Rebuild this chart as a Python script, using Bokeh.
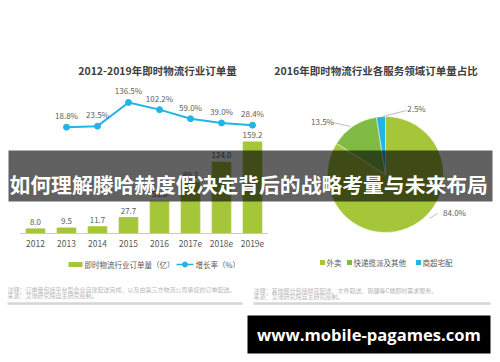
import numpy as np
from bokeh.plotting import figure
from bokeh.models import Range1d
from bokeh.core.properties import value
from bokeh.embed import file_html
from bokeh.resources import INLINE

# ---------------- data ----------------
years = ["2012", "2013", "2014", "2015", "2016", "2017e", "2018e", "2019e"]
orders = [8.0, 9.5, 11.7, 27.7, 56.0, 89.2, 124.0, 159.2]
rate_years = ["2013", "2014", "2015", "2016", "2017e", "2018e", "2019e"]
rates = [18.8, 23.5, 136.5, 102.2, 59.0, 39.0, 28.4]

pie_cats = ["外卖", "快递揽派及其他", "商超宅配"]
pie_shares = [84.0, 13.5, 2.5]

left_title = "2012-2019年即时物流行业订单量"
right_title = "2016年即时物流行业各服务领域订单量占比"
bar_legend = "即时物流行业订单量（亿）"
line_legend = "增长率（%）"
left_notes = ["注释：订单量包括平台型企业自建配送完成，以及由第三方物流公司承接的订单配送。",
              "来源：艾瑞研究院自主研究绘制。"]
right_notes = ["注释：其他部分包括鲜花配送、文件取送、跑腿等C端即时需求服务。",
               "来源：艾瑞研究院自主研究绘制。"]
banner_text = "如何理解滕哈赫度假决定背后的战略考量与未来布局"
site_text = "www.mobile-pagames.com"

# ---------------- style ----------------
W, H = 500, 362
OFF = 8
FONT = "Noto Sans CJK SC"
GREEN = "#a6c63a"
GREEN2 = "#7fba42"
CYAN = "#22b5e3"
GRAY_TXT = "#606060"

p = figure(width=W, height=H, x_range=Range1d(-OFF, W - OFF), y_range=Range1d(-OFF, H - OFF),
           x_axis_type=None, y_axis_type=None, toolbar_location=None,
           output_backend="svg", min_border=0)
p.grid.visible = False
p.outline_line_color = None
p.background_fill_color = "white"
p.border_fill_color = "white"

# scales for the left chart (positioned inside the full-size frame)
step = 31.0
x0px = 27.0 + OFF
p.extra_x_ranges = {"bx": Range1d(-x0px / step, -x0px / step + W / step)}
bar_k, bar_base = 0.575, 121.0 + OFF
rate_k, rate_base = 0.21, 223.4 + OFF
p.extra_y_ranges = {
    "by": Range1d(-bar_base / bar_k, -bar_base / bar_k + H / bar_k),
    "ry": Range1d(-rate_base / rate_k, -rate_base / rate_k + H / rate_k),
}

idx = list(range(len(years)))
ridx = [years.index(y) for y in rate_years]

def txt(**kw):
    kw.setdefault("text_font", value(FONT))
    return p.text(**kw)

# titles
txt(x=[149], y=[284], text=[left_title], text_align="center", text_baseline="middle",
    text_font_size="10.5px", text_font_style="bold", text_color="#404040")
txt(x=[367.5], y=[284], text=[right_title], text_align="center", text_baseline="middle",
    text_font_size="10.5px", text_font_style="bold", text_color="#404040")

# bars
p.vbar(x=idx, top=orders, bottom=0, width=0.6, color=GREEN,
       x_range_name="bx", y_range_name="by")
p.segment(x0=[-0.5], x1=[len(years) - 0.5], y0=[0], y1=[0], line_color="#c8c8c8",
          line_width=1, x_range_name="bx", y_range_name="by")
txt(x=idx, y=orders, text=[f"{v:.1f}" for v in orders], text_align="center",
    text_baseline="bottom", y_offset=-4, text_font_size="8px", text_color=GRAY_TXT,
    x_range_name="bx", y_range_name="by")
txt(x=idx, y=[0] * len(years), text=years, text_align="center", text_baseline="top",
    y_offset=6, text_font_size="8.5px", text_color="#595959",
    x_range_name="bx", y_range_name="by")

# growth line
p.line(x=ridx, y=rates, line_color=CYAN, line_width=2,
       x_range_name="bx", y_range_name="ry")
p.scatter(x=ridx, y=rates, size=6, fill_color=CYAN, line_color=CYAN,
          x_range_name="bx", y_range_name="ry")
txt(x=ridx, y=rates, text=[f"{v:.1f}%" for v in rates], text_align="center",
    text_baseline="bottom", y_offset=-6, text_font_size="8px", text_color=GRAY_TXT,
    x_range_name="bx", y_range_name="ry")

# left legend
p.rect(x=[67], y=[90], width=14, height=5, fill_color=GREEN, line_color=None)
txt(x=[76], y=[90], text=[bar_legend], text_baseline="middle",
    text_font_size="7.5px", text_color="#595959")
p.segment(x0=[168], x1=[185], y0=[90], y1=[90], line_color=CYAN, line_width=1.5)
p.scatter(x=[176.5], y=[90], size=5, fill_color=CYAN, line_color=CYAN)
txt(x=[187], y=[90], text=[line_legend], text_baseline="middle",
    text_font_size="7.5px", text_color="#595959")

# pie
cx, cy, r = 377, 180, 58
fr = np.array(pie_shares) / sum(pie_shares)
cum = np.concatenate([[0], np.cumsum(fr)])
starts = np.pi / 2 - 2 * np.pi * cum[:-1]
ends = np.pi / 2 - 2 * np.pi * cum[1:]
p.wedge(x=[cx] * 3, y=[cy] * 3, radius=r, start_angle=list(starts), end_angle=list(ends),
        direction="clock", fill_color=[GREEN, GREEN2, CYAN], line_color="white",
        line_width=0.5)

# pie labels with leader lines
lab_x = [446, 314, 408]
lab_y = [142, 233, 246]
p.segment(x0=[421, 324, 374], y0=[136, 232, 238], x1=[429, 342, 398], y1=[141, 228, 244],
          line_color="#bdbdbd", line_width=1)
txt(x=lab_x, y=lab_y, text=[f"{v:.1f}%" for v in pie_shares], text_align="center",
    text_baseline="middle", text_font_size="8px", text_color=GRAY_TXT)

# right legend
lg_x = [314, 341, 410]
p.rect(x=lg_x, y=[92] * 3, width=5, height=5, fill_color=[GREEN, GREEN2, CYAN], line_color=None)
txt(x=[v + 4 for v in lg_x], y=[92] * 3, text=pie_cats, text_baseline="middle",
    text_font_size="7.5px", text_color="#595959")

# footnotes
txt(x=[-1, -1], y=[65, 59], text=left_notes, text_baseline="middle",
    text_font_size="6px", text_color="#b8b8b8")
txt(x=[245, 245], y=[64, 58], text=right_notes, text_baseline="middle",
    text_font_size="6px", text_color="#b8b8b8")
p.segment(x0=[-1, 245], x1=[234, 482], y0=[51, 51], y1=[51, 51],
          line_color="#d6d6d6", line_width=2.5)

# banner overlay
p.quad(left=[0], right=[484], bottom=[153], top=[204], fill_color="black",
       fill_alpha=0.62, line_color=None)
txt(x=[1], y=[171], text=[banner_text], text_baseline="middle",
    text_font_size="20.8px", text_font_style="bold", text_color="white")

# site watermark
p.quad(left=[239], right=[482], bottom=[1], top=[39], fill_color="black", line_color=None)
txt(x=[360.5], y=[20], text=[site_text], text_align="center", text_baseline="middle",
    text_font=value("Open Sans"), text_font_size="16.6px", text_font_style="bold",
    text_color="white")

open("out.html", "w").write(file_html(p, INLINE))
